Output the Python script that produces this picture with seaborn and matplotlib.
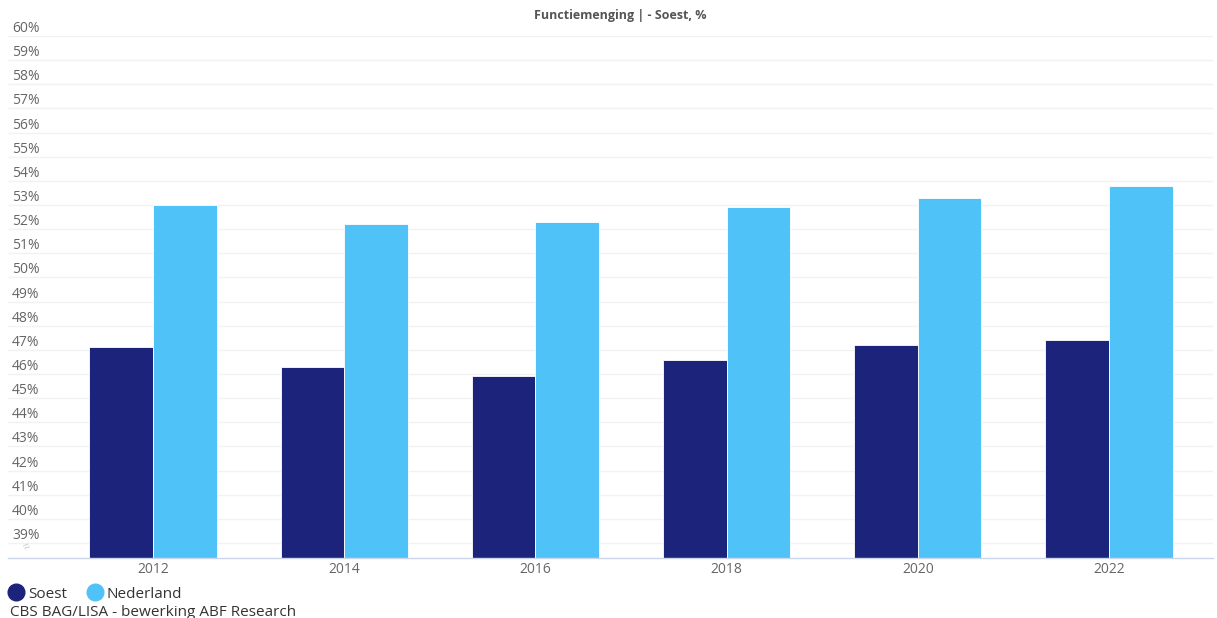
import seaborn as sns
import matplotlib.pyplot as plt
import pandas as pd
from matplotlib.lines import Line2D

sns.set_style('white')
plt.rcParams['font.family'] = ['Open Sans', 'DejaVu Sans']

years = ['2012', '2014', '2016', '2018', '2020', '2022']
soest = [47.1, 46.3, 45.9, 46.6, 47.2, 47.4]
nederland = [53.0, 52.2, 52.3, 52.9, 53.3, 53.8]
series = ['Soest', 'Nederland']
colors = ['#1b237b', '#4fc3f7']
y_ticks = list(range(39, 61))

df = pd.DataFrame({'jaar': years * 2,
                   'waarde': soest + nederland,
                   'gebied': ['Soest'] * len(years) + ['Nederland'] * len(years)})

fig = plt.figure(figsize=(12.17, 6.18), dpi=100)
ax = fig.add_axes([8 / 1217, 60 / 618, 1205 / 1217, (558 - 36) / 618])

sns.barplot(data=df, x='jaar', y='waarde', hue='gebied', hue_order=series,
            palette=colors, saturation=1, width=0.665, edgecolor='white', linewidth=0.6,
            legend=False, ax=ax)

ax.set_ylim(38.38, 60)
ax.set_xlim(-0.758, 5.544)
ax.set_yticks(y_ticks)
ax.set_yticklabels([f'{t}%' for t in y_ticks], ha='left', va='bottom')
ax.tick_params(axis='y', pad=-3, length=0, labelsize=10, labelcolor='#666666')
ax.tick_params(axis='x', length=0, labelsize=10, labelcolor='#666666', pad=3)
ax.grid(axis='y', color='#f2f2f2', linewidth=1)
ax.set_axisbelow(True)
ax.set_xlabel('')
ax.set_ylabel('')
for side in ['top', 'right', 'left']:
    ax.spines[side].set_visible(False)
ax.spines['bottom'].set_color('#ccd6eb')
ax.spines['bottom'].set_linewidth(1)

# axis break mark
ax.text(0.016, 0.006, '≈', transform=ax.transAxes, fontsize=9, color='#c0c8d8',
        rotation=30, ha='center', va='bottom')

fig.text(620 / 1217, 1 - 16 / 618, 'Functiemenging | - Soest, %', ha='center', va='center',
         fontsize=9, fontweight='bold', color='#555555')

handles = [Line2D([0], [0], marker='o', linestyle='', markersize=12,
                  markerfacecolor=c, markeredgecolor=c) for c in colors]
fig.legend(handles, series, loc='center left', bbox_to_anchor=(0.0, 1 - 594 / 618),
           ncol=2, frameon=False, fontsize=11, labelcolor='#333333',
           handletextpad=0.15, columnspacing=1.15, handlelength=1.3, borderaxespad=0)

fig.text(10 / 1217, 1 - 612 / 618, 'CBS BAG/LISA - bewerking ABF Research', ha='left',
         va='center', fontsize=11, color='#333333')

fig.savefig('out.png', dpi=100)
